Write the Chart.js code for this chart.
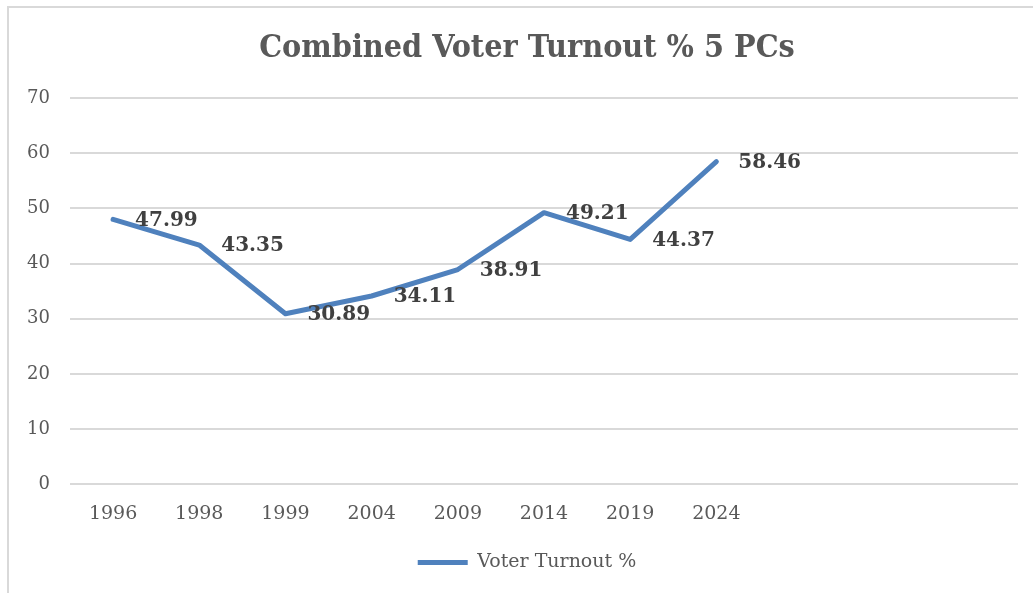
<!DOCTYPE html>
<html>
<head>
<meta charset="utf-8">
<title>Combined Voter Turnout % 5 PCs</title>
<script src="https://cdn.jsdelivr.net/npm/chart.js@4.4.1/dist/chart.umd.min.js"></script>
<style>
  html, body { margin: 0; padding: 0; background: #fff; }
  #wrap { position: relative; width: 1033px; height: 593px; overflow: hidden; }
  #frame { position: absolute; left: 7px; top: 6px; width: 1100px; height: 700px; border: 2px solid #d9d9d9; box-sizing: border-box; }
  #chart { position: absolute; left: 0; top: 0; }
</style>
</head>
<body>
<div id="wrap">
  <div id="frame"></div>
  <canvas id="chart" width="1033" height="593"></canvas>
</div>
<script>
// categories (last three slots are empty in the original sheet)
var years = ["1996", "1998", "1999", "2004", "2009", "2014", "2019", "2024", "", "", ""];
var turnout = [47.99, 43.35, 30.89, 34.11, 38.91, 49.21, 44.37, 58.46];
var yTicks = [0, 10, 20, 30, 40, 50, 60, 70];

var serif = '"DejaVu Serif", "Liberation Serif", serif';

// value labels to the right of each point, like Excel's "Right" position
var valueLabels = {
    id: 'valueLabels',
    afterLayout: function (chart) {
        // Excel centres title and legend on the whole frame, not on the canvas
        if (chart.titleBlock) chart.titleBlock.left = 36;
        if (chart.legend) chart.legend.left = 36;
    },
    afterDatasetsDraw: function (chart) {
        var ctx = chart.ctx;
        var meta = chart.getDatasetMeta(0);
        var ds = chart.data.datasets[0];
        ctx.save();
        ctx.font = 'bold 20px ' + serif;
        ctx.fillStyle = '#404040';
        ctx.textAlign = 'left';
        ctx.textBaseline = 'middle';
        meta.data.forEach(function (pt, i) {
            if (ds.data[i] == null) return;
            ctx.fillText(ds.data[i].toFixed(2), pt.x + 22, pt.y + 1);
        });
        ctx.restore();
    }
};

var ctx = document.getElementById('chart');

var chartGraph = new Chart(ctx, {
    type: 'line',
    data: {
        labels: years,
        datasets: [{
            label: 'Voter Turnout %',
            data: turnout,
            borderWidth: 5,
            borderColor: '#4f81bd',
            backgroundColor: '#4f81bd',
            borderCapStyle: 'round',
            borderJoinStyle: 'round',
            pointRadius: 0,
            pointHoverRadius: 0,
            pointStyle: 'line',
            tension: 0
        }]
    },
    options: {
        responsive: false,
        animation: false,
        layout: { padding: { left: 0, right: 15, top: 0, bottom: 11 } },
        plugins: {
            title: {
                display: true,
                text: 'Combined Voter Turnout % 5 PCs',
                color: '#595959',
                font: { family: '"DejaVu Serif Condensed", ' + serif, size: 32, weight: 'bold' },
                padding: { top: 29, bottom: 30.6 }
            },
            legend: {
                position: 'bottom',
                labels: {
                    usePointStyle: true,
                    pointStyleWidth: 50,
                    color: '#595959',
                    font: { family: serif, size: 19 },
                    padding: 18
                }
            },
            tooltip: { enabled: false }
        },
        scales: {
            x: {
                offset: true,
                grid: { display: false },
                border: { display: false },
                ticks: {
                    color: '#595959',
                    font: { family: serif, size: 19 },
                    padding: 10,
                    maxRotation: 0,
                    autoSkip: false
                }
            },
            y: {
                min: 0,
                max: 70,
                afterFit: function (scale) { scale.width = 70; },
                afterBuildTicks: function (scale) {
                    scale.ticks = yTicks.map(function (v) { return { value: v }; });
                },
                grid: { color: '#d9d9d9', lineWidth: 2, drawTicks: false },
                border: { display: false },
                ticks: {
                    color: '#595959',
                    font: { family: serif, size: 18 },
                    padding: 20
                }
            }
        }
    },
    plugins: [valueLabels]
});
</script>
</body>
</html>
